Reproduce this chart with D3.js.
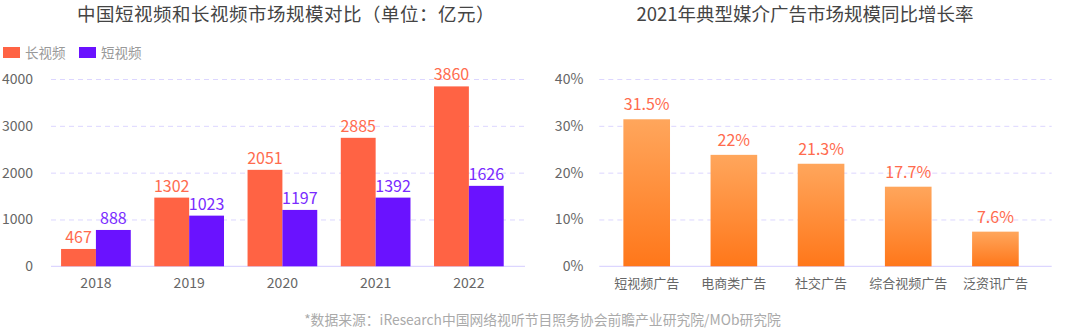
<!DOCTYPE html>
<html><head><meta charset="utf-8">
<script src="https://cdn.jsdelivr.net/npm/d3@7"></script>
<style>
html,body{margin:0;padding:0;background:#fff;}
svg{display:block;font-family:"Noto Sans CJK SC","Noto Sans",sans-serif;}
</style></head>
<body><svg id="c" width="1086" height="330"></svg>
<script>
// ---- Left chart data ----
const years = ["2018","2019","2020","2021","2022"];
const seriesNames = ["长视频","短视频"];
const longBar  = [370, 1467, 2060, 2744, 3842];   // bar heights as drawn
const shortBar = [776, 1082, 1204, 1467, 1718];
const longLabel  = ["467","1302","2051","2885","3860"];
const shortLabel = ["888","1023","1197","1392","1626"];
const leftTicks = [0,1000,2000,3000,4000];

// ---- Right chart data ----
const adCats = ["短视频广告","电商类广告","社交广告","综合视频广告","泛资讯广告"];
const adBar = [31.4, 23.8, 21.9, 17.0, 7.4];         // bar heights as drawn (%)
const adLabel = ["31.5%","22%","21.3%","17.7%","7.6%"];
const rightTicks = [0,10,20,30,40];

const titleLeft = "中国短视频和长视频市场规模对比（单位：亿元）";
const titleRight = "2021年典型媒介广告市场规模同比增长率";
const footer = "*数据来源：iResearch中国网络视听节目照务协会前瞻产业研究院/MOb研究院";

const cOrange = "#FF6344", cPurple = "#6A12FF";
const cLabelO = "#FF6B4E", cLabelP = "#7A2BFF";
const gridC = "#DCD6FF", axisC = "#D4CCFF";

const svg = d3.select("#c");

// gradient
const defs = svg.append("defs");
const g = defs.append("linearGradient").attr("id","og").attr("x1",0).attr("y1",0).attr("x2",0).attr("y2",1);
g.append("stop").attr("offset","0%").attr("stop-color","#FFA65C");
g.append("stop").attr("offset","100%").attr("stop-color","#FF771A");

// titles
svg.append("text").attr("x",286).attr("y",21).attr("text-anchor","middle")
  .attr("font-size",18.5).attr("letter-spacing","0.5px").attr("fill","#444").text(titleLeft);
svg.append("text").attr("x",805).attr("y",21).attr("text-anchor","middle")
  .attr("font-size",18.5).attr("fill","#444").text(titleRight);

// legend
const legX = [3, 79];
seriesNames.forEach((n,i)=>{
  svg.append("rect").attr("x",legX[i]).attr("y",47).attr("width",17).attr("height",11)
    .attr("fill", i===0?cOrange:cPurple);
  svg.append("text").attr("x",legX[i]+22).attr("y",57.5).attr("font-size",13.5)
    .attr("fill","#999").text(n);
});

// ---- Left chart ----
const yL = d3.scaleLinear().domain([0,4000]).range([266.3,79]);
const gridL0 = 51, gridL1 = 525;
const axL = svg.append("g").attr("transform",`translate(${gridL0},0)`)
  .call(d3.axisLeft(yL).tickValues(leftTicks).tickSize(-(gridL1-gridL0)).tickPadding(18).tickFormat(d3.format("d")));
axL.select(".domain").remove();
axL.selectAll(".tick line").attr("stroke",gridC).attr("stroke-dasharray","5,4")
  .filter(d=>d===0).remove();
axL.selectAll(".tick text").attr("font-size",14).attr("fill","#666").attr("font-family",'"Noto Sans CJK SC",sans-serif');
svg.append("line").attr("x1",gridL0).attr("x2",gridL1).attr("y1",yL(0)).attr("y2",yL(0)).attr("stroke",axisC);

const x0 = d3.scaleBand().domain(years).range([49.3,515.5]).paddingInner(0.2525).paddingOuter(0.12625);
const x1 = d3.scaleBand().domain(seriesNames).range([0,x0.bandwidth()]);
const bx = svg.append("g").attr("transform",`translate(0,${yL(0)})`)
  .call(d3.axisBottom(x0).tickSize(0).tickPadding(0));
bx.select(".domain").remove();
bx.selectAll(".tick text").attr("font-size",14).attr("fill","#666").attr("dy","1.55em")
  .attr("font-family",'"Noto Sans CJK SC",sans-serif');

const leftData = years.map((y,i)=>[
  {cat:y, s:seriesNames[0], v:longBar[i], t:longLabel[i], c:cOrange, lc:cLabelO},
  {cat:y, s:seriesNames[1], v:shortBar[i], t:shortLabel[i], c:cPurple, lc:cLabelP}
]).flat();
svg.append("g").selectAll("rect").data(leftData).join("rect")
  .attr("x",d=>x0(d.cat)+x1(d.s)).attr("width",x1.bandwidth())
  .attr("y",d=>yL(d.v)).attr("height",d=>yL(0)-yL(d.v)).attr("fill",d=>d.c);
svg.append("g").selectAll("text").data(leftData).join("text")
  .attr("x",d=>x0(d.cat)+x1(d.s)+x1.bandwidth()/2).attr("y",d=>yL(d.v)-6)
  .attr("text-anchor","middle").attr("font-size",16).attr("fill",d=>d.lc).text(d=>d.t);

// ---- Right chart ----
const yR = d3.scaleLinear().domain([0,40]).range([266.3,79]);
const gridR0 = 599.3, gridR1 = 1051.7;
const axR = svg.append("g").attr("transform",`translate(${gridR0},0)`)
  .call(d3.axisLeft(yR).tickValues(rightTicks).tickSize(-(gridR1-gridR0)).tickPadding(16).tickFormat(d=>d+"%"));
axR.select(".domain").remove();
axR.selectAll(".tick line").attr("stroke",gridC).attr("stroke-dasharray","5,4")
  .filter(d=>d===0).remove();
axR.selectAll(".tick text").attr("font-size",14).attr("fill","#666").attr("font-family",'"Noto Sans CJK SC",sans-serif');
svg.append("line").attr("x1",gridR0).attr("x2",gridR1).attr("y1",yR(0)).attr("y2",yR(0)).attr("stroke",axisC);

const xr = d3.scaleBand().domain(adCats).range([603.1,1039]).paddingInner(0.465).paddingOuter(0.2325);
const bxr = svg.append("g").attr("transform",`translate(0,${yR(0)})`)
  .call(d3.axisBottom(xr).tickSize(0).tickPadding(0));
bxr.select(".domain").remove();
bxr.selectAll(".tick text").attr("font-size",13).attr("fill","#666").attr("dy","1.65em")
  .attr("font-family",'"Noto Sans CJK SC",sans-serif');

const rightData = adCats.map((c,i)=>({cat:c, v:adBar[i], t:adLabel[i]}));
svg.append("g").selectAll("rect").data(rightData).join("rect")
  .attr("x",d=>xr(d.cat)).attr("width",xr.bandwidth())
  .attr("y",d=>yR(d.v)).attr("height",d=>yR(0)-yR(d.v)).attr("fill","url(#og)");
svg.append("g").selectAll("text").data(rightData).join("text")
  .attr("x",d=>xr(d.cat)+xr.bandwidth()/2).attr("y",d=>yR(d.v)-9)
  .attr("text-anchor","middle").attr("font-size",16).attr("fill",cLabelO).text(d=>d.t);

// footer
svg.append("text").attr("x",542.5).attr("y",325).attr("text-anchor","middle")
  .attr("font-size",13.8).attr("fill","#aaa").text(footer);
</script></body></html>
